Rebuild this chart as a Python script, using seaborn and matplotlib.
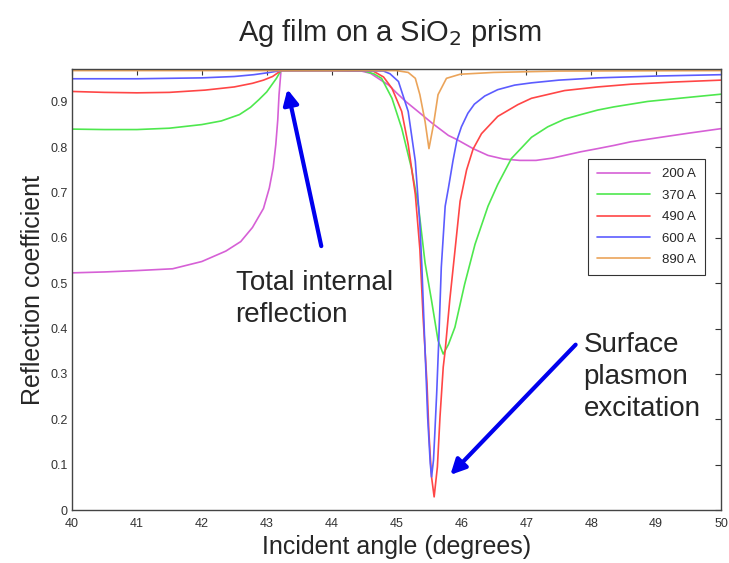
import pandas as pd
import matplotlib
matplotlib.use("Agg")
import matplotlib.pyplot as plt
import seaborn as sns

# Reflection curves, one pair of lists per film thickness
ang_200 = [40.0, 40.5, 41.0, 41.55, 42.0, 42.37, 42.6, 42.78, 42.95, 43.04, 43.10, 43.14, 43.17, 43.19, 43.22,
           44.0, 44.46, 44.6, 44.77, 44.88, 45.0, 45.15, 45.33, 45.55, 45.80, 45.93, 46.18, 46.41, 46.65, 46.9,
           47.15, 47.4, 47.59, 47.84, 48.1, 48.35, 48.61, 49.12, 49.5, 50.0]
ref_200 = [0.523, 0.525, 0.528, 0.532, 0.548, 0.571, 0.592, 0.623, 0.665, 0.71, 0.755, 0.806, 0.86, 0.916, 0.969,
           0.969, 0.968, 0.963, 0.947, 0.937, 0.92, 0.90, 0.879, 0.853, 0.826, 0.817, 0.797, 0.782, 0.774, 0.771,
           0.771, 0.776, 0.782, 0.79, 0.797, 0.804, 0.812, 0.823, 0.831, 0.841]

ang_370 = [40.0, 40.5, 41.0, 41.5, 42.0, 42.3, 42.58, 42.75, 42.88, 43.0, 43.09, 43.15, 43.19, 43.22,
           44.0, 44.5, 44.65, 44.77, 44.93, 45.08, 45.23, 45.34, 45.44, 45.54, 45.64, 45.72, 45.80, 45.90,
           46.05, 46.21, 46.41, 46.56, 46.77, 47.08, 47.33, 47.59, 47.84, 48.1, 48.35, 48.87, 49.5, 50.0]
ref_370 = [0.840, 0.839, 0.839, 0.842, 0.850, 0.858, 0.872, 0.888, 0.905, 0.922, 0.940, 0.952, 0.962, 0.969,
           0.969, 0.968, 0.962, 0.952, 0.908, 0.842, 0.754, 0.668, 0.545, 0.462, 0.374, 0.344, 0.365, 0.403,
           0.498, 0.586, 0.670, 0.718, 0.775, 0.822, 0.845, 0.862, 0.872, 0.882, 0.889, 0.901, 0.910, 0.917]

ang_490 = [40.0, 40.5, 41.0, 41.5, 42.05, 42.5, 42.78, 42.95, 43.09, 43.22,
           44.0, 44.64, 44.8, 44.93, 45.08, 45.18, 45.29, 45.36, 45.41, 45.44, 45.47, 45.50, 45.54, 45.58,
           45.63, 45.67, 45.72, 45.75, 45.82, 45.90, 45.98, 46.08, 46.18, 46.31, 46.56, 46.87, 47.08, 47.59,
           48.1, 48.61, 49.3, 50.0]
ref_490 = [0.923, 0.921, 0.920, 0.921, 0.926, 0.933, 0.941, 0.948, 0.956, 0.969,
           0.969, 0.968, 0.955, 0.930, 0.879, 0.806, 0.696, 0.575, 0.425, 0.352, 0.278, 0.168, 0.073, 0.029,
           0.095, 0.205, 0.315, 0.352, 0.462, 0.571, 0.681, 0.750, 0.796, 0.830, 0.868, 0.894, 0.908, 0.925,
           0.933, 0.939, 0.944, 0.948]

ang_600 = [40.0, 41.0, 42.0, 42.5, 42.8, 43.0, 43.22,
           44.0, 44.8, 44.9, 45.03, 45.18, 45.29, 45.36, 45.39, 45.43, 45.46, 45.48, 45.52, 45.54, 45.57,
           45.59, 45.62, 45.65, 45.69, 45.75, 45.80, 45.87, 45.93, 46.0, 46.1, 46.2, 46.36, 46.56, 46.82,
           47.08, 47.5, 48.1, 49.0, 50.0]
ref_600 = [0.951, 0.951, 0.953, 0.956, 0.960, 0.964, 0.969,
           0.969, 0.968, 0.962, 0.945, 0.879, 0.769, 0.630, 0.540, 0.388, 0.280, 0.205, 0.103, 0.073, 0.110,
           0.168, 0.260, 0.370, 0.535, 0.670, 0.710, 0.770, 0.815, 0.845, 0.875, 0.895, 0.913, 0.927, 0.937,
           0.942, 0.948, 0.953, 0.957, 0.960]

ang_890 = [40.0, 43.22, 45.0, 45.18, 45.29, 45.36, 45.44, 45.50, 45.57, 45.64, 45.77, 45.98, 46.5, 47.5, 50.0]
ref_890 = [0.969, 0.969, 0.969, 0.965, 0.952, 0.916, 0.857, 0.797, 0.850, 0.916, 0.952, 0.961, 0.965, 0.968, 0.969]

labels = ["200 A", "370 A", "490 A", "600 A", "890 A"]
colors = ["#d660d6", "#4ee84e", "#ff4646", "#5c5cff", "#eba45a"]

frames = []
for lab, a, r in zip(labels,
                     [ang_200, ang_370, ang_490, ang_600, ang_890],
                     [ref_200, ref_370, ref_490, ref_600, ref_890]):
    frames.append(pd.DataFrame({"angle": a, "R": r, "film": lab}))
df = pd.concat(frames, ignore_index=True)

sns.set_style("white")
plt.rcParams["font.family"] = ["Liberation Sans", "DejaVu Sans"]

fig = plt.figure(figsize=(7.29, 5.63), dpi=100)
ax = fig.add_axes([0.0988, 0.0941, 0.8902, 0.7829])

sns.lineplot(data=df, x="angle", y="R", hue="film", hue_order=labels,
             palette=colors, estimator=None, sort=True, linewidth=1.2, ax=ax)

ax.set_xlim(40, 50)
ax.set_ylim(0, 0.972)
ax.set_xticks(range(40, 51))
ax.set_yticks([i / 10 for i in range(10)])
ax.set_yticklabels(["0"] + [f"0.{i}" for i in range(1, 10)])
ax.tick_params(direction="in", top=True, right=True, length=4, width=0.8,
               labelsize=9, colors="#333333", pad=3)
ax.tick_params(axis="x", pad=6)
for s in ax.spines.values():
    s.set_color("#444444")
    s.set_linewidth(1.0)

ax.set_xlabel("Incident angle (degrees)", fontsize=18, labelpad=3)
ax.set_ylabel("Reflection coefficient", fontsize=18, labelpad=4)
fig.suptitle("Ag film on a SiO$_2$ prism", fontsize=21, x=0.535, y=0.97)

leg = ax.legend(loc="upper right", bbox_to_anchor=(0.985, 0.812), fontsize=9.5,
                frameon=True, fancybox=False, edgecolor="black", handlelength=4,
                borderpad=0.7, labelspacing=0.7, handletextpad=0.9)
leg.get_frame().set_linewidth(0.8)

arrow = dict(arrowstyle="-|>,head_length=0.9,head_width=0.45", lw=3, color="#0000ee")
ax.annotate("", xy=(43.31, 0.934), xytext=(43.85, 0.576), arrowprops=arrow)
ax.annotate("", xy=(45.80, 0.073), xytext=(47.79, 0.369), arrowprops=arrow)

ax.text(42.52, 0.53, "Total internal\nreflection", fontsize=20, va="top", ha="left",
        linespacing=1.3)
ax.text(47.88, 0.393, "Surface\nplasmon\nexcitation", fontsize=20, va="top", ha="left",
        linespacing=1.3)

fig.savefig("out.png", dpi=100)
